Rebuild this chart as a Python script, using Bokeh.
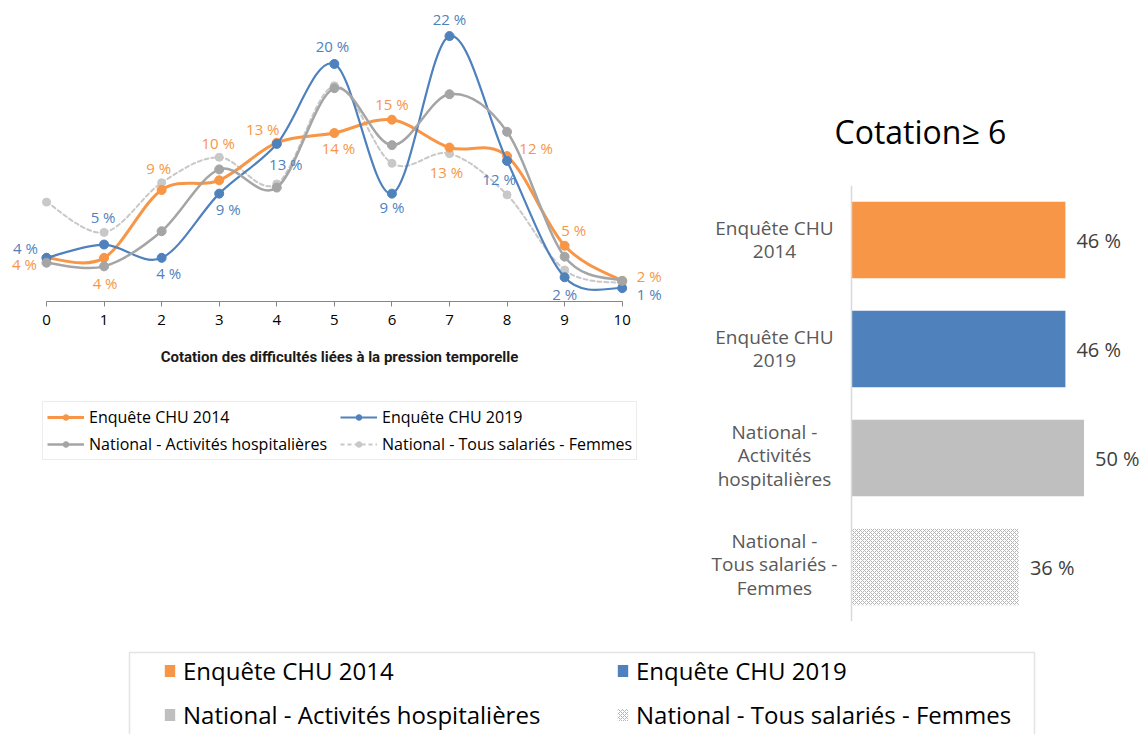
from bokeh.plotting import figure
from bokeh.models import (ColumnDataSource, Legend, LegendItem, FixedTicker, LabelSet,
                          FactorRange, BoxAnnotation, Range1d, Span)
from bokeh.layouts import row, column
from bokeh.embed import file_html
from bokeh.resources import INLINE
from bokeh.core.properties import value

# ---------------- data ----------------
ratings = list(range(11))
chu_2014 = [3.6, 3.6, 9.2, 10.0, 13.1, 13.9, 15.0, 12.7, 12.0, 4.6, 1.7]
chu_2019 = [3.6, 4.7, 3.6, 8.9, 13.0, 19.6, 8.9, 21.9, 11.6, 2.0, 1.1]
nat_hosp = [3.2, 2.9, 5.8, 10.9, 9.4, 17.6, 12.9, 17.1, 14.0, 3.7, 1.7]
nat_femmes = [8.2, 5.7, 9.8, 11.9, 9.7, 17.8, 11.4, 12.2, 8.8, 2.6, 1.5]

series_names = ["Enquête CHU 2014", "Enquête CHU 2019",
                "National - Activités hospitalières", "National - Tous salariés - Femmes"]
bar_labels = [["Enquête CHU", "2014"], ["Enquête CHU", "2019"],
              ["National -", "Activités", "hospitalières"],
              ["National -", "Tous salariés -", "Femmes"]]
bar_values = [46, 46, 50, 36]

x_axis_title = "Cotation des difficultés liées à la pression temporelle"
bar_title = "Cotation≥ 6"

# ---------------- styles ----------------
FONT = "Open Sans"
ORANGE = "#F79646"
BLUE = "#4F81BD"
GRAY = "#A5A5A5"
LGRAY = "#C8C8C8"
BARGRAY = "#BFBFBF"
HATCH = "#B4B4B4"

# label offsets (screen px, y down)
dx_2014 = [-22, 1, -3, -1, -14, 4, 0, -3, 29, 9, 27]
dy_2014 = [6, 25, -22, -37, -14, 15, -16, 24, -8, -16, -5]
dx_2019 = [-21, -1, 7, 9, 9, -2, 0, 0, -8, 0, 27]
dy_2019 = [-10, -28, 15, 15, 20, -18, 13, -17, 18, 17, 6]
LINE_PITCH = 23.5


def smooth_source(xs, ys):
    n = len(xs)
    d = dict(x0=[], y0=[], x1=[], y1=[], cx0=[], cy0=[], cx1=[], cy1=[])
    for i in range(n - 1):
        a = max(i - 1, 0)
        b = min(i + 2, n - 1)
        d["x0"].append(xs[i]); d["y0"].append(ys[i])
        d["x1"].append(xs[i + 1]); d["y1"].append(ys[i + 1])
        d["cx0"].append(xs[i] + (xs[i + 1] - xs[a]) / 6.0)
        d["cy0"].append(ys[i] + (ys[i + 1] - ys[a]) / 6.0)
        d["cx1"].append(xs[i + 1] - (xs[b] - xs[i]) / 6.0)
        d["cy1"].append(ys[i + 1] - (ys[b] - ys[i]) / 6.0)
    return ColumnDataSource(d)


def clean(p):
    p.xgrid.visible = False
    p.ygrid.visible = False
    p.outline_line_color = None
    p.background_fill_color = "white"
    p.border_fill_color = "white"


# ---------------- left line chart ----------------
PX_X = 57.57
PX_Y = 12.12
p1 = figure(width=678, height=385, x_range=Range1d(-46 / PX_X, (678 - 46) / PX_X),
            y_range=Range1d(0, 301 / PX_Y),
            y_axis_location=None, output_backend="svg", toolbar_location=None,
            min_border_left=0, min_border_right=0, min_border_top=0, min_border_bottom=84)
clean(p1)
ax = p1.xaxis[0]
ax.bounds = (0, 10)
ax.ticker = FixedTicker(ticks=ratings)
ax.minor_tick_line_color = None
ax.major_tick_in = 0
ax.major_tick_out = 5
ax.axis_line_color = "#868686"
ax.major_tick_line_color = "#868686"
ax.major_label_text_font = FONT
ax.major_label_text_font_size = "15px"
ax.major_label_text_color = "#000000"
ax.major_label_standoff = 8
ax.axis_label = x_axis_title
ax.axis_label_text_font = "Roboto"
ax.axis_label_text_font_size = "15px"
ax.axis_label_text_font_style = "bold"
ax.axis_label_text_color = "#1a1a1a"
ax.axis_label_standoff = 20

line_specs = {
    "femmes": (nat_femmes, LGRAY, 2, "4 3", 8),
    "2014": (chu_2014, ORANGE, 3, "solid", 9),
    "2019": (chu_2019, BLUE, 2.2, "solid", 9),
    "hosp": (nat_hosp, GRAY, 2.5, "solid", 9),
}
for key in ["femmes", "2014", "2019", "hosp"]:
    ys, col, lw, dash, ms = line_specs[key]
    p1.bezier(x0="x0", y0="y0", x1="x1", y1="y1", cx0="cx0", cy0="cy0", cx1="cx1", cy1="cy1",
              source=smooth_source(ratings, ys), line_color=col, line_width=lw,
              line_dash=dash, line_cap="round")
    p1.scatter(ratings, ys, size=ms, marker="circle", fill_color=col, line_color=col)

for ys, col, dxs, dys in [(chu_2014, ORANGE, dx_2014, dy_2014), (chu_2019, BLUE, dx_2019, dy_2019)]:
    p1.text(x=ratings, y=ys, text=[f"{v:.0f} %" for v in ys], x_offset=dxs, y_offset=dys,
            text_align="center", text_baseline="middle", text_font=value(FONT),
            text_font_size="15px", text_color=col)

# ---------------- left legend (series drawn out of view, only the legend shows) ----------------
p2 = figure(width=678, height=93, x_range=Range1d(-30, -29), y_range=Range1d(0, 1),
            x_axis_location=None, y_axis_location=None, output_backend="svg",
            toolbar_location=None, min_border=0)
clean(p2)
items = []
for name, key in zip(series_names, ["2014", "2019", "hosp", "femmes"]):
    ys, col, lw, dash, ms = line_specs[key]
    rl = p2.line(x=ratings, y=ys, line_color=col, line_width=lw, line_dash=dash)
    rs = p2.scatter(x=ratings, y=ys, size=ms, marker="circle", fill_color=col, line_color=col)
    items.append(LegendItem(label=name, renderers=[rl, rs]))
leg1 = Legend(items=items, location=(42, 18), orientation="horizontal", ncols=2,
              label_text_font=FONT, label_text_font_size="16px", label_text_color="#000000",
              glyph_width=37, glyph_height=14, label_standoff=5, label_width=246, label_height=22,
              spacing=5, padding=4, margin=0, border_line_color="#D9D9D9", border_line_width=1,
              background_fill_alpha=1)
p2.add_layout(leg1)

# ---------------- right bar chart ----------------
PX_B = 4.65
factors = list(reversed(series_names))
bar_src = ColumnDataSource(dict(
    cat=series_names, val=bar_values,
    txt=[f"{v:.0f} %" for v in bar_values], base=[0] * len(bar_values),
    fill=[ORANGE, BLUE, BARGRAY, "#FFFFFF"],
    hatch=[" ", " ", " ", "diagonal_cross"],
))
# one row per text line of each category label, centred individually
lab_rows = dict(cat=[], line=[], base=[], yoff=[])
for cat, lines in zip(series_names, bar_labels):
    n = len(lines)
    for k, ln in enumerate(lines):
        lab_rows["cat"].append(cat)
        lab_rows["line"].append(ln)
        lab_rows["base"].append(0)
        lab_rows["yoff"].append(((n - 1) / 2.0 - k) * LINE_PITCH + (3 if n == 3 else 0))
lab_src = ColumnDataSource(lab_rows)

p3 = figure(width=464, height=645, y_range=FactorRange(factors=factors),
            x_range=Range1d(-173 / PX_B, (464 - 173) / PX_B),
            x_axis_location=None, y_axis_location=None, output_backend="svg",
            toolbar_location=None, min_border_left=0, min_border_right=0,
            min_border_top=185, min_border_bottom=24, title=bar_title)
clean(p3)
p3.title.text_font = FONT
p3.title.text_font_size = "32px"
p3.title.text_font_style = "normal"
p3.title.text_color = "#000000"
p3.title.align = "left"
p3.title.offset = 156
p3.title.standoff = 66
p3.hbar(y="cat", left="base", right="val", height=0.7, source=bar_src, fill_color="fill",
        line_color=None, hatch_pattern="hatch", hatch_color=HATCH, hatch_scale=4,
        hatch_weight=1)
p3.add_layout(Span(location=0, dimension="height", line_color="#D9D9D9", line_width=1.5))
p3.add_layout(LabelSet(x="base", y="cat", text="line", source=lab_src, x_offset=-77,
                       y_offset="yoff", text_align="center", text_baseline="middle",
                       text_font=value(FONT), text_font_size="19px", text_color="#595959"))
p3.add_layout(LabelSet(x="val", y="cat", text="txt", source=bar_src, x_offset=11,
                       text_align="left", text_baseline="middle", text_font=value(FONT),
                       text_font_size="20px", text_color="#404040"))

# ---------------- bottom legend (bars drawn out of view, only the legend shows) ----------------
X0 = -1242
p4 = figure(width=1142, height=89, x_range=Range1d(X0, X0 + 1142), y_range=Range1d(0, 89),
            x_axis_location=None, y_axis_location=None, output_backend="svg",
            toolbar_location=None, min_border=0)
clean(p4)
p4.add_layout(BoxAnnotation(left=X0 + 129, right=X0 + 1034, top=82, bottom=-40, fill_alpha=0,
                            line_color="#A6A6A6", line_width=1.5))
items2 = []
for i, (name, col, hp) in enumerate(zip(series_names, [ORANGE, BLUE, BARGRAY, "#FFFFFF"],
                                        [" ", " ", " ", "diagonal_cross"])):
    r = p4.hbar(y=[i], left=[0], right=[bar_values[i]], height=0.5, fill_color=col,
                line_color=None, hatch_pattern=hp, hatch_color=HATCH, hatch_scale=4,
                hatch_weight=1)
    items2.append(LegendItem(label=name, renderers=[r]))
leg2 = Legend(items=items2, location=(163, 3), orientation="horizontal", ncols=2,
              label_text_font=FONT, label_text_font_size="24px", label_text_color="#000000",
              glyph_width=13, glyph_height=15, label_standoff=7, label_width=423, label_height=34,
              spacing=10, padding=0, margin=0, border_line_color=None,
              background_fill_alpha=0)
p4.add_layout(leg2)

layout = column(row(column(p1, p2), p3), p4)
open("out.html", "w").write(file_html(layout, INLINE))
